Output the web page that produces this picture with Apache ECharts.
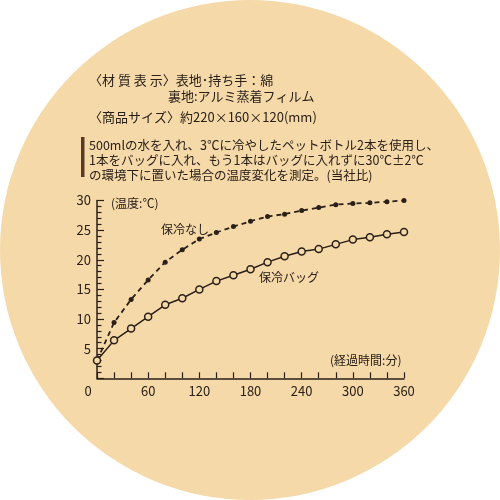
<!DOCTYPE html>
<html><head><meta charset="utf-8">
<script src="https://cdn.jsdelivr.net/npm/echarts@6/dist/echarts.min.js"></script>
<style>html,body{margin:0;padding:0;background:#fff}#c{width:500px;height:500px}</style>
</head><body><div id="c"></div>
<script>
const minutes = [0,20,40,60,80,100,120,140,160,180,200,220,240,260,280,300,320,340,360];
const noCooler = [3.0,9.4,13.3,16.6,19.6,21.7,23.5,24.6,25.6,26.5,27.3,27.7,28.3,28.8,29.3,29.5,29.6,29.8,30.0];
const coolerBag = [3.0,6.4,8.4,10.4,12.4,13.5,15.0,16.4,17.4,18.4,19.6,20.6,21.4,21.8,22.6,23.4,23.8,24.3,24.7];
const seriesNames = ['保冷なし','保冷バッグ'];
const ink = '#2a2018';
const bg = '#f5d9a9';
const font = '"Noto Sans CJK JP","Noto Sans",sans-serif';

const chart = echarts.init(document.getElementById('c'));
function txt(x,y,s,size){return {type:'text',left:x,top:y,z:10,style:{text:s,font:(size||13)+'px '+font,fill:ink,textVerticalAlign:'middle'}};}
chart.setOption({
  backgroundColor:'#fff',
  animation:false,
  graphic:[
    {type:'circle',shape:{cx:250,cy:250,r:250},style:{fill:bg},z:-10,silent:true},
    {type:'rect',shape:{x:81,y:137,width:3.5,height:40},style:{fill:'#5a3a22'},z:10},
    {type:'text',x:89,y:80,z:10,style:{text:'〈材 質 表 示〉表地･持ち手：綿',font:'13px '+font,fill:ink,verticalAlign:'middle'}},
    {type:'text',x:168,y:96,z:10,style:{text:'裏地:アルミ蒸着フィルム',font:'13px '+font,fill:ink,verticalAlign:'middle'}},
    {type:'text',x:89,y:117,z:10,style:{text:'〈商品サイズ〉約220×160×120(mm)',font:'13px '+font,fill:ink,verticalAlign:'middle'}},
    {type:'text',x:89,y:145,z:10,style:{text:'500mlの水を入れ、3℃に冷やしたペットボトル2本を使用し、',font:'12.5px '+font,fill:ink,verticalAlign:'middle'}},
    {type:'text',x:89,y:160,z:10,style:{text:'1本をバッグに入れ、もう1本はバッグに入れずに30℃±2℃',font:'12.5px '+font,fill:ink,verticalAlign:'middle'}},
    {type:'text',x:89,y:175,z:10,style:{text:'の環境下に置いた場合の温度変化を測定。(当社比)',font:'12.5px '+font,fill:ink,verticalAlign:'middle'}},
    {type:'text',x:111,y:203,z:10,style:{text:'(温度:℃)',font:'12px '+font,fill:ink,verticalAlign:'middle'}},
    {type:'text',x:161,y:229,z:10,style:{text:seriesNames[0],font:'12px '+font,fill:ink,verticalAlign:'middle'}},
    {type:'text',x:259,y:277,z:10,style:{text:seriesNames[1],font:'12px '+font,fill:ink,verticalAlign:'middle'}},
    {type:'text',x:330,y:360,z:10,style:{text:'(経過時間:分)',font:'12px '+font,fill:ink,verticalAlign:'middle'}}
  ],
  grid:{left:97,right:96,top:200.5,bottom:121.7,containLabel:false},
  xAxis:{type:'value',min:0,max:360,interval:60,
    axisLine:{show:true,lineStyle:{color:ink,width:1.5}},
    axisTick:{show:true,inside:true,length:6,lineStyle:{color:ink,width:1.2}},
    minorTick:{show:true,splitNumber:3,length:6,lineStyle:{color:ink,width:1.2}},
    splitLine:{show:false},
    axisLabel:{color:ink,fontSize:13,fontFamily:font,margin:6,
      formatter:function(v){return v===0?'{z|0}':String(v);},
      rich:{z:{fontSize:13,fontFamily:font,color:ink,padding:[0,18,0,0]}}}
  },
  yAxis:{type:'value',min:0,max:30,interval:5,
    axisLine:{show:true,onZero:false,lineStyle:{color:ink,width:1.5}},
    axisTick:{show:true,inside:true,length:7,lineStyle:{color:ink,width:1.2}},
    minorTick:{show:true,splitNumber:5,length:4.5,lineStyle:{color:ink,width:1.2}},
    splitLine:{show:false},
    axisLabel:{color:ink,fontSize:13,fontFamily:font,margin:6,showMinLabel:false}
  },
  series:[
    {name:seriesNames[0],type:'line',data:minutes.map((t,i)=>[t,noCooler[i]]),
      symbol:'circle',symbolSize:5,lineStyle:{color:ink,width:1.8,type:[5,4]},
      itemStyle:{color:ink},z:3},
    {name:seriesNames[1],type:'line',data:minutes.map((t,i)=>[t,coolerBag[i]]),
      symbol:'circle',symbolSize:7,lineStyle:{color:ink,width:1.5},
      itemStyle:{color:bg,borderColor:ink,borderWidth:1.5},z:4}
  ]
});
</script></body></html>
